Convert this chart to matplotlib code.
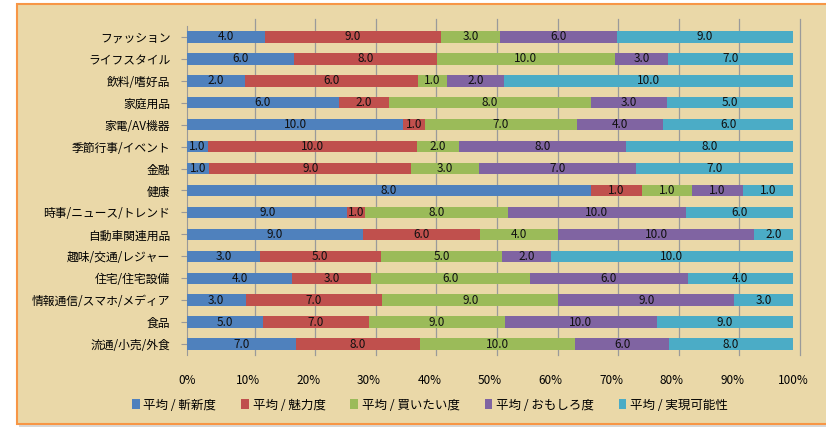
import matplotlib.pyplot as plt
from matplotlib.patches import Rectangle
from matplotlib.transforms import ScaledTranslation
import numpy as np

plt.rcParams['font.family'] = ['Noto Sans CJK JP', 'DejaVu Sans']

categories = ["ファッション", "ライフスタイル", "飲料/嗜好品", "家庭用品", "家電/AV機器",
              "季節行事/イベント", "金融", "健康", "時事/ニュース/トレンド", "自動車関連用品",
              "趣味/交通/レジャー", "住宅/住宅設備", "情報通信/スマホ/メディア", "食品", "流通/小売/外食"]
series_names = ["平均 / 斬新度", "平均 / 魅力度", "平均 / 買いたい度", "平均 / おもしろ度", "平均 / 実現可能性"]
novelty = [4, 6, 2, 6, 10, 1, 1, 8, 9, 9, 3, 4, 3, 5, 7]
appeal = [9, 8, 6, 2, 1, 10, 9, 1, 1, 6, 5, 3, 7, 7, 8]
want_buy = [3, 10, 1, 8, 7, 2, 3, 1, 8, 4, 5, 6, 9, 9, 10]
fun = [6, 3, 2, 3, 4, 8, 7, 1, 10, 10, 2, 6, 9, 10, 6]
feasible = [9, 7, 10, 5, 6, 8, 7, 1, 6, 2, 10, 4, 3, 9, 8]
colors = ['#4F81BD', '#C0504D', '#9BBB59', '#8064A2', '#4BACC6']

data = np.array([novelty, appeal, want_buy, fun, feasible], dtype=float)
totals = data.sum(axis=0)
shares = data / totals

fig = plt.figure(figsize=(8.26, 4.28), dpi=100)
fig.patch.set_facecolor('white')

# soft shadow + papyrus panel with orange frame (under the axes)
shadow = Rectangle((19 / 826, 1 - 427 / 428), 1.0, 420 / 428, transform=fig.transFigure,
                   facecolor='#D8D8D8', edgecolor='none', zorder=-11)
panel = Rectangle((17 / 826, 1 - 424 / 428), 1.0, 420 / 428, transform=fig.transFigure,
                  facecolor='#EAD8A8', edgecolor='#F79646', linewidth=1.5, zorder=-10)
fig.patches.append(shadow)
fig.patches.append(panel)

ax = fig.add_axes([187 / 826, 1 - 355 / 428, (793 - 187) / 826, 329 / 428])
ax.set_facecolor('none')

# back wall gridlines sit a few pixels right of the front (3D look)
back = ax.get_xaxis_transform() + ScaledTranslation(7 / 100, 0, fig.dpi_scale_trans)
for gx in np.linspace(0.1, 1, 10):
    ax.plot([gx, gx], [0, 1.02], transform=back, color='#9A9A9A', linewidth=0.9, zorder=1,
            clip_on=False)

y = np.arange(len(categories))
left = np.zeros(len(categories))
for i in range(len(series_names)):
    ax.barh(y, shares[i], left=left, height=0.52, color=colors[i], label=series_names[i], zorder=3)
    for j in range(len(categories)):
        ax.text(left[j] + shares[i][j] / 2, y[j], f"{data[i][j]:.1f}", ha='center', va='center',
                fontsize=8.5, color='#111111', zorder=4)
    left += shares[i]

ax.set_ylim(len(categories) - 0.5, -0.5)
ax.set_xlim(0, 1)
ax.set_yticks(y)
ax.set_yticklabels(categories, fontsize=8.5)
ax.set_xticks(np.linspace(0, 1, 11))
ax.set_xticklabels([f"{int(v)}%" for v in np.linspace(0, 100, 11)], fontsize=8.5)
ax.tick_params(axis='x', length=0, pad=14)
ax.tick_params(axis='y', length=4, color='#999999', pad=8)
for s in ['top', 'right', 'bottom']:
    ax.spines[s].set_visible(False)
ax.spines['left'].set_color('#999999')

ax.legend(loc='center', bbox_to_anchor=(0.401, -0.152), ncol=5, frameon=False, fontsize=9,
          handlelength=0.6, handleheight=0.9, handletextpad=0.3, columnspacing=2.0)

fig.savefig('out.png', dpi=100)
